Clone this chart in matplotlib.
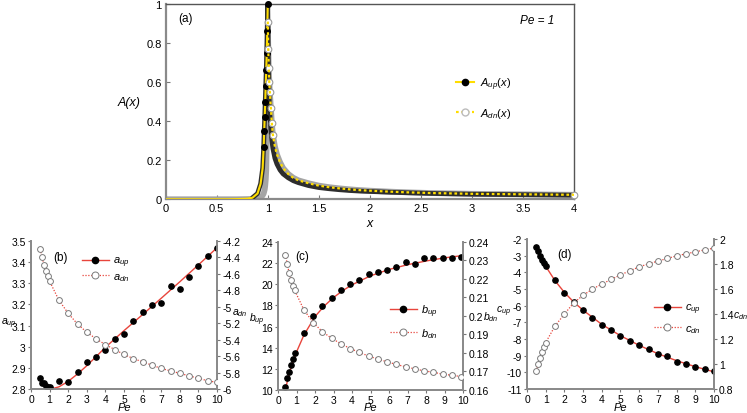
import matplotlib
matplotlib.use("Agg")
import matplotlib.pyplot as plt
from matplotlib.ticker import FuncFormatter, MultipleLocator

plt.rcParams["font.family"] = ["Liberation Sans", "DejaVu Sans"]
plt.rcParams["mathtext.fontset"] = "custom"
plt.rcParams["mathtext.rm"] = "Liberation Sans"
plt.rcParams["mathtext.it"] = "Liberation Sans:italic"

YELLOW = "#FFDD00"
RED = "#E8453C"
SPINE = "#8a8a8a"

# ---- panel (a): A(x) at Pe = 1 ----
x_a = [0.0, 0.2, 0.4, 0.6, 0.7, 0.8, 0.85, 0.9, 0.93, 0.95, 0.96, 0.965, 0.97,
       0.975, 0.98, 0.985, 0.99, 0.995, 1.0, 1.005, 1.01, 1.015, 1.02, 1.03,
       1.04, 1.05, 1.07, 1.09, 1.12, 1.15, 1.2, 1.25, 1.3, 1.4, 1.5, 1.6, 1.7,
       1.8, 1.9, 2.0, 2.2, 2.4, 2.6, 2.8, 3.0, 3.2, 3.4, 3.6, 3.8, 4.0]
A_up = [0.0, 0.0, 0.0, 0.0, 0.001, 0.003, 0.008, 0.03, 0.08, 0.16, 0.27, 0.35,
        0.42, 0.5, 0.58, 0.66, 0.75, 0.86, 1.0, 0.72, 0.6, 0.5, 0.44, 0.36,
        0.3, 0.26, 0.21, 0.18, 0.15, 0.13, 0.11, 0.095, 0.085, 0.07, 0.06,
        0.054, 0.049, 0.045, 0.042, 0.04, 0.036, 0.033, 0.03, 0.028, 0.026,
        0.025, 0.024, 0.023, 0.022, 0.021]
A_dn = [0.0, 0.0, 0.0, 0.0, 0.0, 0.001, 0.002, 0.005, 0.01, 0.02, 0.03, 0.04,
        0.05, 0.07, 0.1, 0.15, 0.3, 0.55, 0.91, 0.77, 0.67, 0.6, 0.55, 0.47,
        0.39, 0.33, 0.27, 0.23, 0.19, 0.16, 0.13, 0.11, 0.097, 0.082, 0.07,
        0.062, 0.056, 0.051, 0.047, 0.044, 0.039, 0.035, 0.032, 0.03, 0.028,
        0.027, 0.026, 0.025, 0.024, 0.023]

# ---- panel (b): a coefficients ----
pe_a = [0.5, 0.6, 0.7, 0.8, 0.9, 1.0, 1.5, 2.0, 2.5, 3.0, 3.5, 4.0, 4.5, 5.0,
        5.5, 6.0, 6.5, 7.0, 7.5, 8.0, 8.5, 9.0, 9.5, 10.0]
a_up = [2.852, 2.828, 2.828, 2.812, 2.809, 2.808, 2.836, 2.835, 2.882, 2.926,
        2.953, 2.984, 3.035, 3.058, 3.12, 3.165, 3.195, 3.207, 3.285, 3.272,
        3.33, 3.382, 3.428, 3.466]
a_dn = [-4.30, -4.40, -4.49, -4.57, -4.63, -4.69, -4.92, -5.08, -5.21, -5.31,
        -5.39, -5.46, -5.52, -5.58, -5.63, -5.67, -5.71, -5.75, -5.78, -5.81,
        -5.84, -5.87, -5.90, -5.92]
pe_a_fit = [0.5, 0.7, 0.9, 1.0, 1.2, 1.5, 2.0, 2.5, 3.0, 3.5, 4.0, 5.0, 6.0,
            7.0, 8.0, 9.0, 10.0]
a_up_fit = [2.848, 2.822, 2.806, 2.802, 2.803, 2.81, 2.836, 2.871, 2.91, 2.953,
            2.997, 3.076, 3.152, 3.229, 3.307, 3.387, 3.468]

# ---- panel (c): b coefficients ----
pe_b = [0.4, 0.5, 0.6, 0.7, 0.8, 0.9, 1.4, 1.9, 2.4, 2.9, 3.4, 3.9, 4.4, 4.9,
        5.4, 5.9, 6.4, 6.9, 7.4, 7.9, 8.4, 8.9, 9.4, 9.9]
b_up = [10.32, 11.1, 11.74, 12.4, 12.94, 13.48, 15.38, 16.97, 17.95, 18.71,
        19.47, 20.04, 20.45, 20.96, 21.12, 21.34, 21.65, 22.07, 21.94, 22.51,
        22.45, 22.45, 22.48, 22.54]
b_dn = [0.2331, 0.228, 0.2233, 0.2195, 0.2161, 0.2138, 0.2033, 0.1964, 0.1915,
        0.1879, 0.185, 0.1824, 0.1803, 0.1783, 0.1767, 0.1752, 0.1738, 0.1725,
        0.1714, 0.1703, 0.1696, 0.1685, 0.168, 0.1672]
pe_b_fit = [0.4, 0.5, 0.6, 0.8, 1.0, 1.4, 2.0, 2.5, 3.0, 3.5, 4.0, 5.0, 6.0,
            7.0, 8.0, 9.0, 10.0]
b_up_fit = [10.05, 10.8, 11.5, 12.7, 13.6, 15.2, 16.95, 17.95, 18.75, 19.4,
            19.95, 20.8, 21.4, 21.85, 22.2, 22.5, 22.72]

# ---- panel (d): c coefficients ----
pe_c = [0.5, 0.6, 0.7, 0.8, 0.9, 1.0, 1.5, 2.0, 2.5, 3.0, 3.5, 4.0, 4.5, 5.0,
        5.5, 6.0, 6.5, 7.0, 7.5, 8.0, 8.5, 9.0, 9.5, 10.0]
c_up = [-2.45, -2.73, -2.99, -3.23, -3.43, -3.62, -4.47, -5.24, -5.78, -6.27,
        -6.73, -7.14, -7.48, -7.81, -8.09, -8.38, -8.62, -8.91, -9.03, -9.37,
        -9.51, -9.69, -9.82, -9.94]
c_dn = [0.942, 0.998, 1.051, 1.097, 1.137, 1.172, 1.305, 1.40, 1.49, 1.55,
        1.60, 1.64, 1.677, 1.714, 1.746, 1.778, 1.802, 1.824, 1.845, 1.866,
        1.882, 1.898, 1.914, 1.928]
pe_c_fit = [0.5, 0.7, 1.0, 1.5, 2.0, 2.5, 3.0, 4.0, 5.0, 6.0, 7.0, 8.0, 9.0,
            10.0]
c_up_fit = [-2.4, -2.97, -3.63, -4.5, -5.2, -5.78, -6.27, -7.12, -7.8, -8.38,
            -8.88, -9.3, -9.66, -9.97]

fig = plt.figure(figsize=(7.47, 4.14), dpi=100)

fmt = FuncFormatter(lambda v, p: f"{v:g}")


def style_spines(ax, color=SPINE, lw=1.3):
    for s in ax.spines.values():
        s.set_color(color)
        s.set_linewidth(lw)


# ===================== panel (a) =====================
ax = fig.add_axes([0.2218, 0.5162, 0.5466, 0.4717])
ax.set_xlim(0, 4)
ax.set_ylim(0, 1)
ax.xaxis.set_major_locator(MultipleLocator(0.5))
ax.yaxis.set_major_locator(MultipleLocator(0.2))
ax.xaxis.set_major_formatter(fmt)
ax.yaxis.set_major_formatter(fmt)
ax.tick_params(direction="in", length=3, width=0.8, color="#777777",
               labelsize=8, pad=3)
ax.spines["left"].set_color(SPINE)
ax.spines["bottom"].set_color(SPINE)
ax.spines["left"].set_linewidth(1.6)
ax.spines["bottom"].set_linewidth(1.6)
ax.spines["top"].set_color("#555555")
ax.spines["right"].set_color("#555555")
ax.spines["top"].set_linewidth(1.0)
ax.spines["right"].set_linewidth(1.0)

i85 = x_a.index(0.85)
i1 = x_a.index(1.0)
up_mk = [i for i, v in enumerate(x_a) if 0.96 <= v <= 1.0]
dn_mk = [i for i, v in enumerate(x_a) if 1.0 <= v <= 1.05] + [len(x_a) - 1]

# bands left by the densely packed markers
ax.plot(x_a, A_dn, color="#a5a5a5", lw=4.2, solid_capstyle="round", zorder=2)
ax.plot(x_a[i85:], A_up[i85:], color="#2d2d2d", lw=3.4,
        solid_capstyle="round", zorder=3)
# curves
ax.plot(x_a[:i1 + 1], A_up[:i1 + 1], color=YELLOW, lw=1.5, zorder=4)
ax.plot(x_a, A_up, ls="none", marker="o", ms=4, mfc="black", mec="black",
        markevery=up_mk, zorder=5, clip_on=False)
ax.plot(x_a, A_dn, ls="none", marker="o", ms=4.8, mfc="white", mec="#9a9a9a",
        mew=0.8, markevery=dn_mk, zorder=6, clip_on=False)
ax.plot(x_a[i1:], A_dn[i1:], color=YELLOW, lw=1.6, ls=(0, (1.2, 1.2)),
        zorder=7)

# legend proxies
h_up, = ax.plot([], [], color=YELLOW, lw=1.5, marker="o", ms=4.5,
                mfc="black", mec="black")
h_dn, = ax.plot([], [], color=YELLOW, lw=1.6, ls=(0, (1.2, 1.2)), marker="o",
                ms=5, mfc="white", mec="#bbbbbb")
ax.legend([h_up, h_dn], [r"$A_{up}(x)$", r"$A_{dn}(x)$"], loc="upper left",
          bbox_to_anchor=(0.711, 0.635), frameon=False, fontsize=8,
          handlelength=1.6, handletextpad=0.6, labelspacing=1.25,
          borderpad=0, borderaxespad=0)

ax.text(0.03, 0.93, "(a)", transform=ax.transAxes, fontsize=8.5,
        ha="left", va="center")
ax.text(0.91, 0.92, "Pe = 1", transform=ax.transAxes, fontsize=8.5,
        style="italic", ha="center", va="center")
ax.text(-0.09, 0.5, "A(x)", transform=ax.transAxes, fontsize=9,
        style="italic", ha="center", va="center")
ax.text(0.5, -0.12, "x", transform=ax.transAxes, fontsize=9,
        style="italic", ha="center", va="center")


# ===================== lower panels =====================
def lower_panel(rect, pe_pts, up, dn, pe_fit, up_fit, ylim, y2lim, ystep,
                y2step, tag, tag_xy, name, lab_up_xy, lab_dn_xy, leg_xy,
                leg_space):
    ax1 = fig.add_axes(rect)
    ax2 = ax1.twinx()
    ax1.set_xlim(0, 10)
    ax1.set_ylim(*ylim)
    ax2.set_ylim(*y2lim)
    ax1.xaxis.set_major_locator(MultipleLocator(1))
    ax1.yaxis.set_major_locator(MultipleLocator(ystep))
    ax2.yaxis.set_major_locator(MultipleLocator(y2step))
    for a in (ax1, ax2):
        a.xaxis.set_major_formatter(fmt)
        a.yaxis.set_major_formatter(fmt)
        a.tick_params(direction="out", length=2.5, width=0.8, color="#777777",
                      labelsize=7.5, pad=1.2)
        style_spines(a)
        a.spines["top"].set_visible(False)

    ax1.plot(pe_fit, up_fit, color=RED, lw=1.0, zorder=2)
    ax1.plot(pe_pts, up, ls="none", marker="o", ms=3.8, mfc="black",
             mec="black", zorder=3)
    ax2.plot(pe_pts, dn, color=RED, lw=0.9, ls=(0, (1, 1.3)), marker="o",
             ms=4.2, mfc="white", mec="#7a7a7a", mew=0.7, zorder=3)

    h1, = ax2.plot([], [], color=RED, lw=1.0, marker="o", ms=4.5,
                   mfc="black", mec="black")
    h2, = ax2.plot([], [], color=RED, lw=0.9, ls=(0, (1, 1.3)), marker="o",
                   ms=5, mfc="white", mec="#7a7a7a", mew=0.7)
    ax2.legend([h1, h2], [rf"${name}_{{up}}$", rf"${name}_{{dn}}$"],
               loc="upper left", bbox_to_anchor=leg_xy, frameon=False,
               fontsize=8, handlelength=2.4, handletextpad=0.35,
               labelspacing=leg_space, borderpad=0, borderaxespad=0)

    ax1.text(*tag_xy, tag, transform=ax1.transAxes, fontsize=8.5,
             ha="center", va="center")
    ax1.text(*lab_up_xy, rf"${name}_{{up}}$", transform=ax1.transAxes,
             fontsize=7.5, ha="center", va="center")
    ax1.text(*lab_dn_xy, rf"${name}_{{dn}}$", transform=ax1.transAxes,
             fontsize=7.5, ha="center", va="center")
    # x label sits just above the bottom edge of the figure
    fig.text(rect[0] + rect[2] / 2, 0.0155, "Pe", fontsize=8,
             style="italic", ha="center", va="center")
    return ax1, ax2


lower_panel([0.0415, 0.058, 0.249, 0.3575], pe_a, a_up, a_dn, pe_a_fit,
            a_up_fit, (2.8, 3.5), (-6, -4.2), 0.1, 0.2, "(b)", (0.16, 0.89),
            "a", (-0.122, 0.45), (1.12, 0.52), (0.275, 0.905), 0.15)

lower_panel([0.3722, 0.0556, 0.2477, 0.3575], pe_b, b_up, b_dn, pe_b_fit,
            b_up_fit, (10, 24), (0.16, 0.24), 2, 0.01, "(c)", (0.13, 0.905),
            "b", (-0.115, 0.48), (1.15, 0.5), (0.605, 0.59), 0.6)

lower_panel([0.7055, 0.058, 0.2503, 0.362], pe_c, c_up, c_dn, pe_c_fit,
            c_up_fit, (-11, -2), (0.8, 2.0), 1, 0.2, "(d)", (0.2, 0.9),
            "c", (-0.125, 0.52), (1.14, 0.49), (0.68, 0.58), 0.6)

fig.savefig("out.png", dpi=100, facecolor="white")
